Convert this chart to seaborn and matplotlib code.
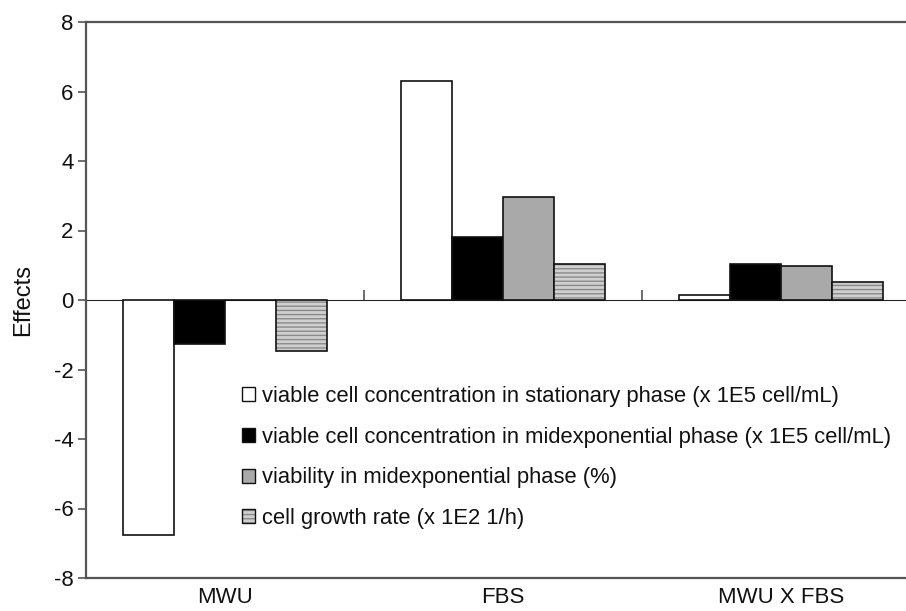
import matplotlib
matplotlib.use("Agg")
import matplotlib.pyplot as plt
import matplotlib.colors as mcolors
import seaborn as sns
import pandas as pd

categories = ["MWU", "FBS", "MWU X FBS"]
series = [
    "viable cell concentration in stationary phase (x 1E5 cell/mL)",
    "viable cell concentration in midexponential phase (x 1E5 cell/mL)",
    "viability in midexponential phase (%)",
    "cell growth rate (x 1E2 1/h)",
]
stationary = [-6.75, 6.30, 0.13]
midexp = [-1.28, 1.82, 1.03]
viability = [0.0, 2.97, 0.98]
growth = [-1.48, 1.04, 0.52]
yticks = [-8, -6, -4, -2, 0, 2, 4, 6, 8]

rows = []
for s, vals in zip(series, [stationary, midexp, viability, growth]):
    for c, v in zip(categories, vals):
        rows.append({"cat": c, "series": s, "value": v})
df = pd.DataFrame(rows)

sns.set_style("white")
plt.rcParams["font.family"] = ["Liberation Sans", "DejaVu Sans"]
plt.rcParams["hatch.linewidth"] = 1.0
plt.rcParams["text.color"] = "#111111"
plt.rcParams["axes.labelcolor"] = "#111111"
plt.rcParams["xtick.labelcolor"] = "#111111"
plt.rcParams["ytick.labelcolor"] = "#111111"

fig = plt.figure(figsize=(9.06, 6.11), dpi=100)
ax = fig.add_axes([86 / 906, 33 / 611, (920 - 86) / 906, (578 - 22) / 611])

palette = ["#ffffff", "#000000", "#a9a9a9", "#cfcfcf"]
sns.barplot(data=df, x="cat", y="value", hue="series", order=categories,
            hue_order=series, palette=palette, edgecolor="#111111",
            linewidth=1.2, width=0.735, ax=ax, saturation=1)

for bar in ax.containers[3]:
    bar.set_hatch("----")
    bar._hatch_color = mcolors.to_rgba("#8a8a8a")

ax.set_ylim(-8, 8)
ax.set_xlim(-0.5, 2.5)
ax.set_yticks(yticks)
ax.set_yticklabels([str(t) for t in yticks])
ax.tick_params(axis="y", which="both", left=True, direction="out", length=6,
               width=1.2, color="#555555", labelsize=16, pad=3,
               labelcolor="#111111")
ax.tick_params(axis="x", bottom=False, labelsize=16, pad=3, labelcolor="#111111")
ax.set_xlabel("")
ax.set_ylabel("Effects", fontsize=17, labelpad=14, color="#111111")

for side in ["left", "top", "bottom", "right"]:
    ax.spines[side].set_visible(True)
    ax.spines[side].set_color("#555555")
    ax.spines[side].set_linewidth(1.6)

# category axis crossing at zero
sec = ax.secondary_xaxis(0.5)
sec.set_xticks([0.5, 1.5])
sec.set_xticklabels([])
sec.tick_params(direction="out", length=7, width=1.2, color="#555555")
sec.spines["bottom"].set_color("#333333")
sec.spines["bottom"].set_linewidth(1.2)

leg = ax.legend(loc="upper left", bbox_to_anchor=(0.1763, 0.3615), frameon=False,
                fontsize=15.8, handlelength=0.6, handleheight=0.6,
                handletextpad=0.3, labelspacing=0.9, borderaxespad=0)
for h in leg.legend_handles:
    h.set_linewidth(1.0)
leg.legend_handles[3].set_hatch("----")
leg.legend_handles[3]._hatch_color = mcolors.to_rgba("#8a8a8a")

fig.savefig("out.png", dpi=100)
